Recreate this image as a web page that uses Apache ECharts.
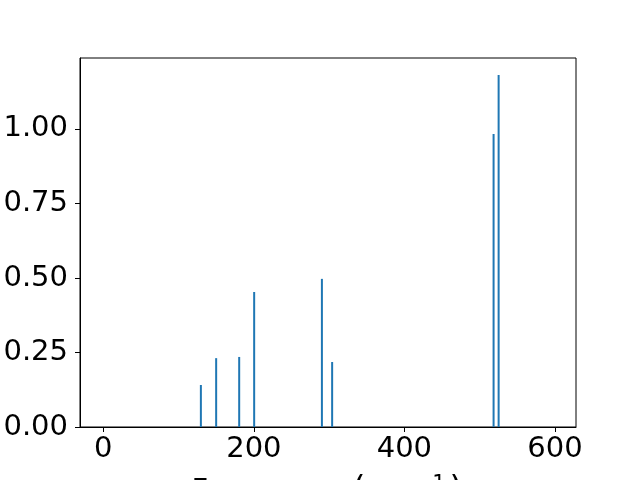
<!DOCTYPE html>
<html>
<head>
<meta charset="utf-8">
<script src="https://cdn.jsdelivr.net/npm/echarts@6/dist/echarts.min.js"></script>
<style>html,body{margin:0;padding:0;background:#fff}#c{width:640px;height:480px}</style>
</head>
<body>
<div id="c"></div>
<script>
const frequencies = [129.6, 149.9, 180.5, 200.4, 290.4, 304.0, 518.5, 525.2];
const intensities = [0.141, 0.231, 0.235, 0.453, 0.497, 0.218, 0.983, 1.181];
const xTicks = [0, 200, 400, 600];
const yTicks = [0, 0.25, 0.5, 0.75, 1.0];

const chart = echarts.init(document.getElementById('c'), null, {renderer: 'canvas'});
const font = 'DejaVu Sans';
chart.setOption({
  animation: false,
  grid: {left: 80, right: 64, top: 58, bottom: 53, containLabel: false, outerBoundsMode: 'none',
         show: true, borderColor: '#000', borderWidth: 1, backgroundColor: 'transparent'},
  xAxis: {
    type: 'value', min: -31, max: 628,
    splitLine: {show: false},
    axisLine: {show: true, onZero: false, lineStyle: {color: '#000', width: 1}},
    axisTick: {show: true, inside: false, length: 5, customValues: xTicks, lineStyle: {color: '#000'}},
    axisLabel: {customValues: xTicks, color: '#000', fontSize: 29, fontFamily: font, margin: 8},
    name: '{n|Frequency }{p|(}{n|cm}{s|−1}{p|)}',
    nameLocation: 'middle', nameGap: 47,
    nameTextStyle: {rich: {
      n: {fontSize: 29, fontFamily: font, color: '#000'},
      p: {fontSize: 33, fontFamily: font, color: '#000', padding: [0, 2, 0, 2]},
      s: {fontSize: 21, fontFamily: font, color: '#000', verticalAlign: 'top', padding: [0, 2, 14, 3]}
    }}
  },
  yAxis: {
    type: 'value', min: 0, max: 1.238,
    splitLine: {show: false},
    axisLine: {show: true, onZero: false, lineStyle: {color: '#000', width: 1}},
    axisTick: {show: true, inside: false, length: 5, customValues: yTicks, lineStyle: {color: '#000'}},
    axisLabel: {customValues: yTicks, color: '#000', fontSize: 29, fontFamily: font, margin: 12,
      formatter: v => v.toFixed(2)}
  },
  series: [{
    type: 'bar',
    barWidth: 2,
    itemStyle: {color: '#1f77b4'},
    data: frequencies.map((f, i) => [f, intensities[i]])
  }]
});
</script>
</body>
</html>
